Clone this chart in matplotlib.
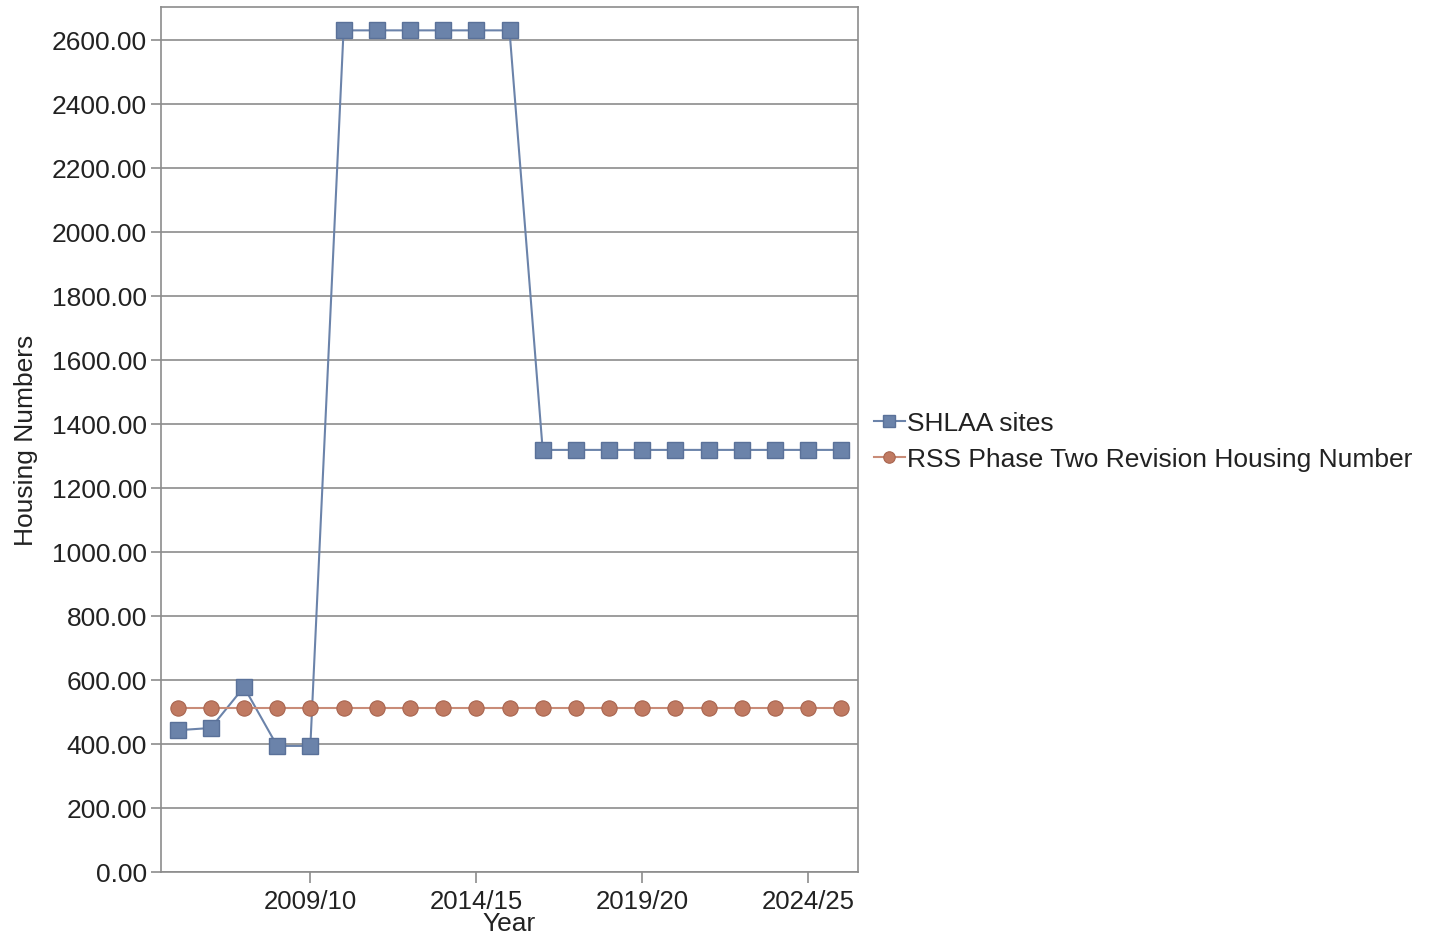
import matplotlib
matplotlib.use("Agg")
import matplotlib.pyplot as plt
from matplotlib.ticker import FuncFormatter

plt.rcParams['font.family'] = ['Liberation Sans', 'DejaVu Sans']

years = [f"{y}/{(y + 1) % 100:02d}" for y in range(2005, 2026)]
shlaa = [443, 450, 578, 394, 394, 2630, 2630, 2630, 2630, 2630, 2630,
         1319, 1319, 1319, 1319, 1319, 1319, 1319, 1319, 1319, 1319]
rss = [512] * 21
tick_labels = ["2009/10", "2014/15", "2019/20", "2024/25"]

blue = '#6b83aa'
blue_edge = '#5a7199'
red = '#c07a62'
red_line = '#c98c78'
grid_c = '#8c8c8c'
txt = '#222222'

fig = plt.figure(figsize=(14.32, 9.37), dpi=100)
ax = fig.add_axes([161/1432, 1 - 873/937, (858-161)/1432, (873-8)/937])

x = list(range(len(years)))
ax.plot(x, shlaa, color=blue, lw=1.5, marker='s', ms=11, mfc=blue, mec=blue_edge,
        mew=1, label='SHLAA sites', zorder=3)
ax.plot(x, rss, color=red_line, lw=1.5, marker='o', ms=11, mfc=red, mec='#a8654f',
        mew=0.8, label='RSS Phase Two Revision Housing Number', zorder=3)

ax.set_xlim(-0.5, len(years) - 0.5)
ax.set_ylim(0, 2703)
ax.set_yticks(range(0, 2601, 200))
ax.yaxis.set_major_formatter(FuncFormatter(lambda v, p: f"{v:.2f}"))
ax.grid(axis='y', color=grid_c, lw=1.2)
ax.set_axisbelow(True)

tick_pos = [years.index(t) for t in tick_labels]
ax.set_xticks(tick_pos)
ax.set_xticklabels(tick_labels, fontsize=18.5)

for s in ax.spines.values():
    s.set_color(grid_c)
    s.set_linewidth(1.2)

ax.tick_params(axis='y', labelsize=19, color=grid_c, length=7, width=1.2, pad=3, labelcolor=txt)
ax.tick_params(axis='x', color=grid_c, length=8, width=1.2, pad=4, labelcolor=txt)

ax.set_ylabel('Housing Numbers', fontsize=19, color=txt, labelpad=10)
ax.set_xlabel('Year', fontsize=19, color=txt, labelpad=-1)

leg = ax.legend(loc='center left', bbox_to_anchor=(863/1432, 1 - 442/937),
                bbox_transform=fig.transFigure, frameon=False, fontsize=19,
                handlelength=1.2, handletextpad=0.05, labelspacing=0.45, borderaxespad=0,
                markerscale=0.75)
for t in leg.get_texts():
    t.set_color(txt)

fig.savefig('out.png', dpi=100)
